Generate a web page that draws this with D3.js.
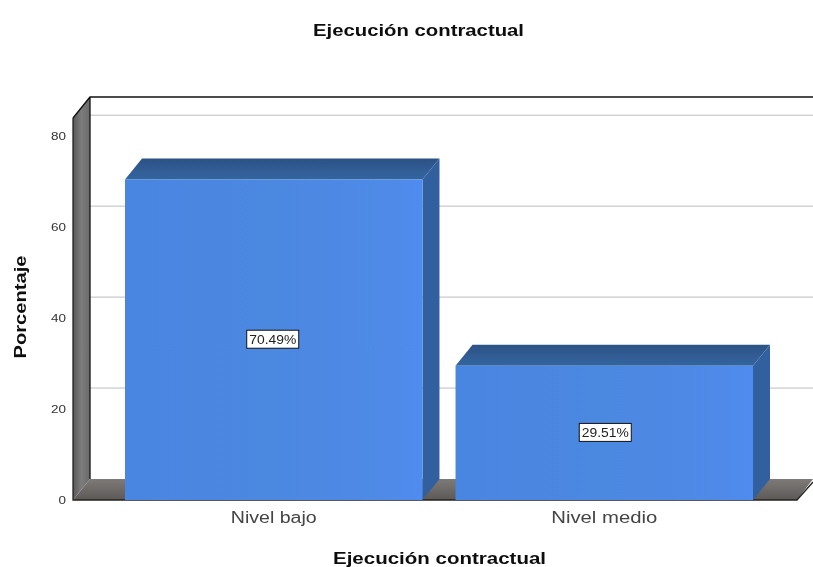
<!DOCTYPE html>
<html><head><meta charset="utf-8">
<script src="https://cdn.jsdelivr.net/npm/d3@7/dist/d3.min.js"></script>
<style>html,body{margin:0;padding:0;background:#fff}svg{display:block}text{font-family:"Liberation Sans",Arial,sans-serif}</style>
</head><body><svg id="c" width="813" height="567"></svg>
<script>
const categories = ["Nivel bajo", "Nivel medio"];
const values = [70.49, 29.51];
const valueLabels = ["70.49%", "29.51%"];
const yTicks = [0, 20, 40, 60, 80];
const title = "Ejecución contractual";
const xTitle = "Ejecución contractual";
const yTitle = "Porcentaje";

const root = d3.select("#c");
const W = 813, H = 567;
const depthX = 17, depthY = 21;
const y = d3.scaleLinear().domain([0, 84]).range([500, 118]);
const x = d3.scaleBand().domain(categories).range([125, 753]).paddingInner(0.1).paddingOuter(0);
const wallL = 73, floorR = 797;
const poly = pts => pts.map(p => p.join(",")).join(" ");

const defs = root.append("defs");
defs.append("filter").attr("id", "soft")
  .attr("filterUnits", "userSpaceOnUse").attr("x", 0).attr("y", 0).attr("width", W).attr("height", H)
  .append("feGaussianBlur").attr("stdDeviation", 0.5);
const g1 = defs.append("linearGradient").attr("id", "front").attr("x1", 0).attr("x2", 1).attr("y1", 0).attr("y2", 0);
[[0, "#4a86e2"], [0.5, "#4c88e0"], [0.9, "#4f8ae8"], [1, "#4f8cf0"]].forEach(s => g1.append("stop").attr("offset", s[0]).attr("stop-color", s[1]));
const g2 = defs.append("linearGradient").attr("id", "wall").attr("x1", 0).attr("x2", 1).attr("y1", 0).attr("y2", 0);
[[0, "#5a5a5a"], [0.5, "#7c7c7c"], [1, "#6a6a6a"]].forEach(s => g2.append("stop").attr("offset", s[0]).attr("stop-color", s[1]));
const g3 = defs.append("linearGradient").attr("id", "top").attr("x1", 0).attr("x2", 0).attr("y1", 0).attr("y2", 1);
[[0, "#2c5286"], [1, "#34659f"]].forEach(s => g3.append("stop").attr("offset", s[0]).attr("stop-color", s[1]));
const g4 = defs.append("linearGradient").attr("id", "floor").attr("x1", 0).attr("x2", 0).attr("y1", 0).attr("y2", 1);
[[0, "#7e7a78"], [1, "#5c5957"]].forEach(s => g4.append("stop").attr("offset", s[0]).attr("stop-color", s[1]));

const svg = root.append("g").attr("filter", "url(#soft)");

// back wall gridlines
svg.append("g").selectAll("line").data(yTicks.filter(d => d > 0)).join("line")
  .attr("x1", wallL + depthX).attr("x2", W)
  .attr("y1", d => y(d) - depthY).attr("y2", d => y(d) - depthY)
  .attr("stroke", "#bdbdbd").attr("stroke-width", 1);

// floor and left wall
svg.append("polygon").attr("points", poly([[wallL, y(0)], [wallL + depthX, y(0) - depthY], [W, y(0) - depthY], [floorR, y(0)]]))
  .attr("fill", "url(#floor)");
svg.append("polygon").attr("points", poly([[wallL, y(0)], [wallL + depthX, y(0) - depthY], [wallL + depthX, y(84) - depthY], [wallL, y(84)]]))
  .attr("fill", "url(#wall)");
svg.append("path").attr("d", `M${wallL},${y(84)}L${wallL + depthX},${y(84) - depthY}H${W}M${wallL + depthX},${y(84) - depthY}V${y(0) - depthY}`)
  .attr("fill", "none").attr("stroke", "#111").attr("stroke-width", 1.3);
svg.append("path").attr("d", `M${wallL},${y(84)}V${y(0)}H${floorR}L${W},${y(0) - depthY + 3}`)
  .attr("fill", "none").attr("stroke", "#222").attr("stroke-width", 1.3);

// bars
const bars = svg.append("g").selectAll("g").data(categories).join("g");
const bx = c => x(c), bw = x.bandwidth();
const val = (c) => values[categories.indexOf(c)];
bars.append("polygon").attr("points", c => poly([[bx(c) + bw, y(val(c))], [bx(c) + bw + depthX, y(val(c)) - depthY], [bx(c) + bw + depthX, y(0) - depthY], [bx(c) + bw, y(0)]]))
  .attr("fill", "#33609f");
bars.append("polygon").attr("points", c => poly([[bx(c), y(val(c))], [bx(c) + depthX, y(val(c)) - depthY], [bx(c) + bw + depthX, y(val(c)) - depthY], [bx(c) + bw, y(val(c))]]))
  .attr("fill", "url(#top)");
bars.append("rect").attr("x", c => bx(c)).attr("y", c => y(val(c))).attr("width", bw).attr("height", c => y(0) - y(val(c)))
  .attr("fill", "url(#front)");
// value labels
const lab = svg.append("g").selectAll("g").data(categories).join("g")
  .attr("transform", c => `translate(${bx(c) + bw / 2 + (c === categories[0] ? -1 : 1)},${(y(val(c)) + y(0)) / 2})`);
lab.append("rect").attr("x", -26).attr("y", -9.5).attr("width", 52).attr("height", 18).attr("fill", "#fff").attr("stroke", "#111");
lab.append("text").attr("text-anchor", "middle").attr("y", 4).attr("font-size", 12).attr("textLength", 47).attr("lengthAdjust", "spacingAndGlyphs").attr("fill", "#222")
  .text(c => valueLabels[categories.indexOf(c)]);

// axes
const yAxis = d3.axisLeft(y).tickValues(yTicks).tickSize(0).tickPadding(7);
const ga = svg.append("g").attr("transform", `translate(${wallL},0)`).call(yAxis);
ga.select(".domain").remove();
ga.selectAll("text").attr("font-size", 10.5).attr("textLength", d => d === 0 ? 7.5 : 15).attr("lengthAdjust", "spacingAndGlyphs").attr("fill", "#333").style("font-family", '"Liberation Sans",Arial,sans-serif');
const xAxis = d3.axisBottom(x).tickSize(0).tickPadding(12);
const gx = svg.append("g").attr("transform", `translate(0,${y(0)})`).call(xAxis);
gx.select(".domain").remove();
gx.selectAll("text").attr("font-size", 16).attr("textLength", d => d === categories[0] ? 86 : 106).attr("lengthAdjust", "spacingAndGlyphs").attr("fill", "#444").style("font-family", '"Liberation Sans",Arial,sans-serif');

const bold = (sel, len) => sel.attr("text-anchor", "middle").attr("font-size", 16).attr("textLength", len).attr("lengthAdjust", "spacingAndGlyphs").attr("font-weight", "bold").attr("fill", "#111");
svg.append("text").attr("x", 418.5).attr("y", 36).call(bold, 211).text(title);
svg.append("text").attr("x", 439.5).attr("y", 564).call(bold, 213).text(xTitle);
svg.append("text").attr("transform", "translate(26,307) rotate(-90)").call(bold, 103).text(yTitle);
</script></body></html>
